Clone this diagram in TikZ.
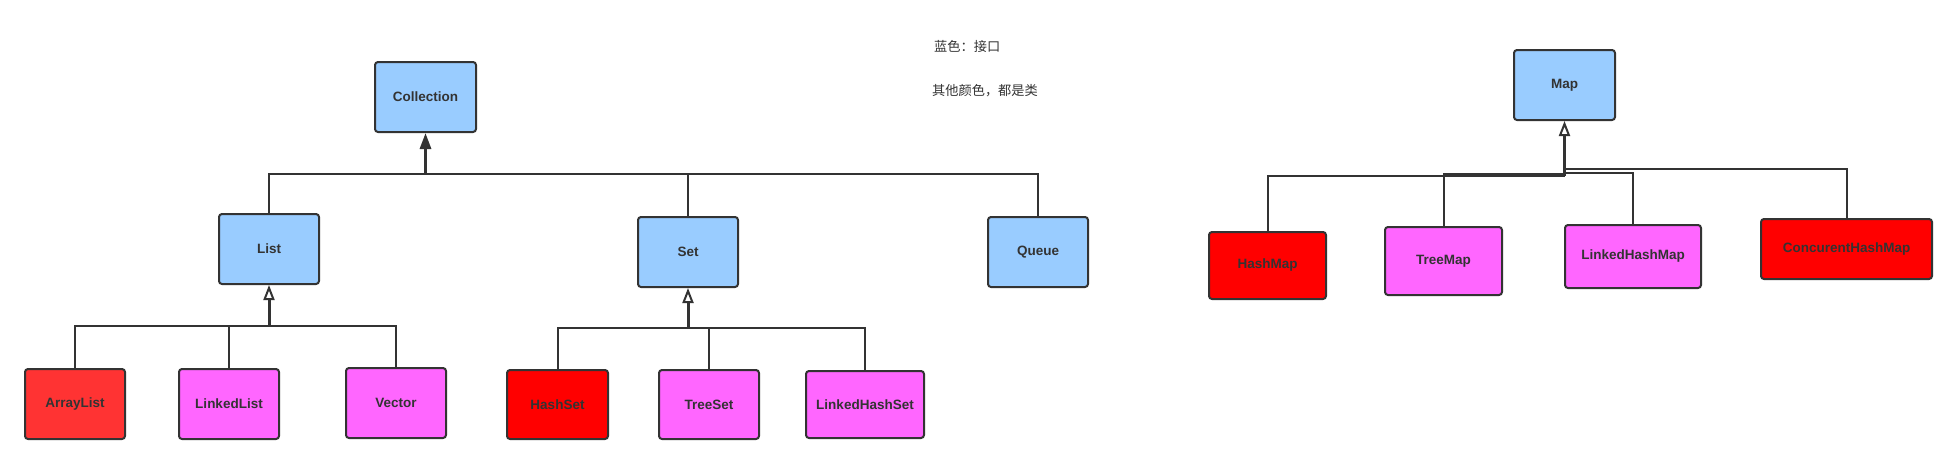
\documentclass[tikz,border=0pt]{standalone}
\usepackage{fontspec}
\setmainfont{Liberation Sans}
\newfontfamily\cjk{Noto Sans CJK SC}
\usetikzlibrary{arrows.meta}
\definecolor{ifblue}{HTML}{99CCFF}
\definecolor{clsmag}{HTML}{FF66FF}
\definecolor{clsred}{HTML}{FF0000}
\definecolor{clsred2}{HTML}{FF3333}
\definecolor{ink}{HTML}{333333}
\tikzset{
  box/.style={draw=ink, line width=2pt, rounded corners=3pt, inner sep=0pt,
    text=ink, font=\fontsize{13.5}{15}\selectfont\bfseries},
  iface/.style={box, fill=ifblue},
  mag/.style={box, fill=clsmag},
  red/.style={box, fill=clsred},
  red2/.style={box, fill=clsred2},
  conn/.style={draw=ink, line width=2pt},
  shaft/.style={draw=ink, line width=3pt},
  solidtip/.style={shaft, -{Triangle[length=16pt, width=11pt, fill=ink]}},
  opentip/.style={shaft, -{Triangle[open, length=15pt, width=11pt, fill=white, line width=2pt]}},
  legend/.style={anchor=west, text=ink, inner sep=0pt, font=\cjk\fontsize{13.2}{15}\selectfont}
}
\begin{document}
\begin{tikzpicture}[x=1pt, y=-1pt]
\useasboundingbox (0,0) rectangle (1957,464);
% interfaces
\node[iface, minimum width=101pt, minimum height=70pt] (coll) at (425.5,97) {Collection};
\node[iface, minimum width=100pt, minimum height=70pt] (list) at (269,249) {List};
\node[iface, minimum width=100pt, minimum height=70pt] (set) at (688,252) {Set};
\node[iface, minimum width=100pt, minimum height=70pt] (queue) at (1038,252) {Queue};
\node[iface, minimum width=101pt, minimum height=70pt] (map) at (1564.5,85) {Map};
% list classes
\node[red2, minimum width=100pt, minimum height=70pt] (alist) at (75,404) {ArrayList};
\node[mag, minimum width=100pt, minimum height=70pt] (llist) at (229,404) {LinkedList};
\node[mag, minimum width=100pt, minimum height=70pt] (vec) at (396,403) {Vector};
% set classes
\node[red, minimum width=101pt, minimum height=69pt] (hset) at (557.5,404.5) {HashSet};
\node[mag, minimum width=100pt, minimum height=69pt] (tset) at (709,404.5) {TreeSet};
\node[mag, minimum width=118pt, minimum height=67pt] (lhset) at (865,404.5) {LinkedHashSet};
% map classes
\node[red, minimum width=117pt, minimum height=67pt] (hmap) at (1267.5,265.5) {HashMap};
\node[mag, minimum width=117pt, minimum height=68pt] (tmap) at (1443.5,261) {TreeMap};
\node[mag, minimum width=136pt, minimum height=63pt] (lhmap) at (1633,256.5) {LinkedHashMap};
\node[red, minimum width=171pt, minimum height=60pt] (chmap) at (1846.5,249) {ConcurentHashMap};
% legend
\node[legend] (lg1) at (934,46) {蓝色：接口};
\node[legend] (lg2) at (932,91) {其他颜色，都是类};
% hubs
\coordinate (hc) at (425.5,174);
\coordinate (hl) at (269,326);
\coordinate (hs) at (688,328);
\coordinate (hm1) at (1564.5,176);
\coordinate (hm2) at (1564.5,174);
\coordinate (hm3) at (1564.5,172.5);
\coordinate (hm4) at (1564.5,169);
% Collection
\draw[conn] (list.north) |- (hc);
\draw[conn] (set.north) |- (hc);
\draw[conn] (queue.north) |- (hc);
\draw[solidtip] (hc) -- (coll.south);
% List
\draw[conn] (alist.north) |- (hl);
\draw[conn] (llist.north) |- (hl);
\draw[conn] (vec.north) |- (hl);
\draw[opentip] (hl) -- (list.south);
% Set
\draw[conn] (hset.north) |- (hs);
\draw[conn] (tset.north) |- (hs);
\draw[conn] (lhset.north) |- (hs);
\draw[opentip] (hs) -- (set.south);
% Map
\draw[conn] (hmap.north) |- (hm1);
\draw[conn] (tmap.north) |- (hm2);
\draw[conn] (lhmap.north) |- (hm3);
\draw[conn] (chmap.north) |- (hm4);
\draw[opentip] (hm1) -- (map.south);
\end{tikzpicture}
\end{document}
